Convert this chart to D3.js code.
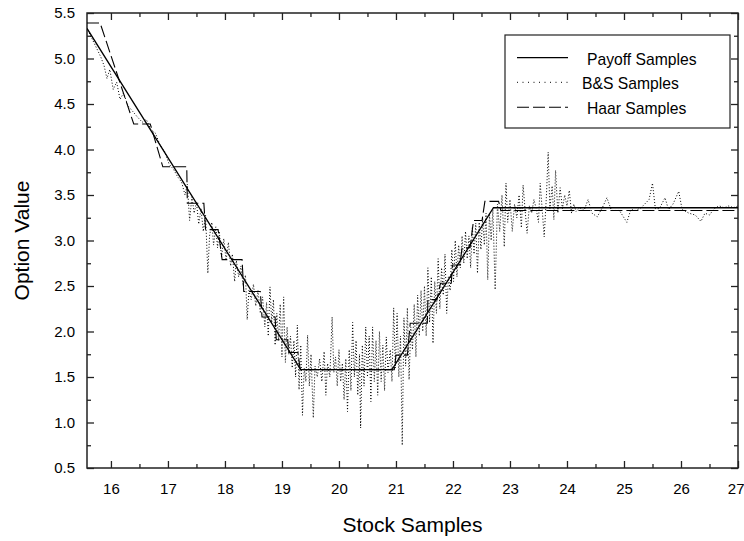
<!DOCTYPE html>
<html><head><meta charset="utf-8">
<script src="https://cdn.jsdelivr.net/npm/d3@7"></script>
<style>
body{margin:0;background:#fff;}
text{font-family:"Liberation Sans",Arial,sans-serif;fill:#000;}
</style></head>
<body><svg id="c" width="744" height="541"></svg>
<script>
// ---- data ----
const xMajorTicks = [16,17,18,19,20,21,22,23,24,25,26,27];
const xMinorTicks = [16.5,17.5,18.5,19.5,20.5,21.5,22.5,23.5,24.5,25.5,26.5];
const yMajorTicks = [0.5,1.0,1.5,2.0,2.5,3.0,3.5,4.0,4.5,5.0,5.5];
const yMinorTicks = [0.75,1.25,1.75,2.25,2.75,3.25,3.75,4.25,4.75,5.25];
const seriesNames = ["Payoff Samples","B&S Samples","Haar Samples"];

const payoffSamples = [[15.58,5.33],[19.33,1.58],[20.93,1.58],[22.71,3.36],[27,3.36]];

const haarSamples = [
[15.58,5.39],[15.81,5.39],[16.40,4.28],[16.69,4.28],[16.91,3.81],[17.33,3.81],[17.34,3.41],[17.63,3.41],
[17.66,3.12],[17.88,3.12],[17.95,2.79],[18.30,2.79],[18.33,2.44],[18.62,2.44],[18.65,2.16],[18.88,2.16],
[18.90,1.91],[19.10,1.91],[19.12,1.77],[19.28,1.77],[19.32,1.58],[20.97,1.58],[21.0,1.74],[21.2,1.74],
[21.25,2.09],[21.55,2.09],[21.56,2.35],[21.72,2.35],[21.78,2.53],[21.97,2.53],[21.99,2.73],[22.12,2.73],
[22.16,2.92],[22.30,2.92],[22.36,3.22],[22.51,3.22],[22.56,3.43],[22.80,3.43],[22.84,3.33],[27.0,3.33]
];

const bsSamples = [
[15.62,5.28],[15.72,5.15],[15.82,5.02],[15.88,4.92],[15.93,4.78],[15.98,4.88],[16.04,4.66],[16.1,4.74],
[16.16,4.55],[16.22,4.62],[16.3,4.48],[16.38,4.42],[16.46,4.36],[16.55,4.3],[16.62,4.33],[16.7,4.22],
[16.78,4.18],[16.86,4.05],[16.94,3.98],[17.02,3.84],[17.1,3.78],[17.17,3.7],[17.24,3.64],[17.3,3.5],
[17.34,3.62],[17.38,3.22],[17.42,3.48],[17.46,3.3],[17.5,3.42],[17.54,3.18],[17.58,3.35],[17.62,3.1],
[17.66,3.28],[17.7,2.64],[17.73,3.05],[17.77,3.2],[17.8,2.95],[17.84,3.15],[17.87,2.92],[17.9,3.1],
[17.94,2.82],[17.98,3.02],[18.02,2.78],[18.06,2.98],[18.1,2.72],[18.13,2.85],[18.17,2.55],[18.2,2.78],
[18.24,2.6],[18.28,2.72],[18.32,2.5],[18.36,2.62],[18.39,2.13],[18.42,2.45],[18.46,2.35],[18.5,2.52],
[18.54,2.28],[18.58,2.45],[18.62,2.2],[18.66,2.38],[18.7,2.05],[18.73,2.32],[18.76,1.95],[18.79,2.49],
[18.82,2.1],[18.85,2.35],[18.88,1.85],[18.91,2.2],[18.94,1.9],[18.97,2.3],[19.0,1.72],[19.03,2.38],
[19.06,1.66],[19.09,2.05],[19.12,1.75],[19.15,1.95],[19.18,1.6],[19.21,1.9],[19.24,1.5],[19.27,2.07],
[19.3,1.36],[19.33,1.85],[19.36,1.08],[19.39,1.6],[19.42,1.45],[19.45,1.96],[19.48,1.4],[19.51,1.75],
[19.55,1.05],[19.58,1.62],[19.62,1.5],[19.66,1.7],[19.7,1.45],[19.74,1.78],[19.77,1.3],[19.8,1.65],
[19.84,1.5],[19.88,2.16],[19.91,1.55],[19.94,1.72],[19.97,1.4],[20.0,1.8],[20.03,1.45],[20.06,1.65],
[20.09,1.25],[20.12,1.7],[20.15,1.12],[20.18,1.8],[20.21,1.35],[20.24,2.1],[20.27,1.5],[20.3,1.9],
[20.33,1.3],[20.36,1.75],[20.38,0.94],[20.41,1.85],[20.44,1.4],[20.47,2.05],[20.5,1.5],[20.53,1.95],
[20.56,1.23],[20.59,2.05],[20.62,1.45],[20.65,1.9],[20.68,1.3],[20.71,2.0],[20.74,1.45],[20.77,1.85],
[20.8,1.35],[20.83,1.94],[20.86,1.55],[20.9,1.8],[20.93,1.45],[20.96,2.26],[20.99,1.6],[21.02,2.2],
[21.05,1.5],[21.08,1.95],[21.11,0.75],[21.14,2.15],[21.17,1.62],[21.2,2.26],[21.23,1.47],[21.26,2.05],
[21.29,1.8],[21.32,2.3],[21.35,1.72],[21.38,2.4],[21.41,1.95],[21.44,2.45],[21.47,2.0],[21.5,2.5],
[21.53,1.95],[21.56,2.7],[21.59,2.1],[21.62,2.6],[21.65,1.87],[21.68,2.55],[21.71,2.2],[21.74,2.8],
[21.77,2.25],[21.8,2.7],[21.83,2.4],[21.86,2.85],[21.89,2.2],[21.92,2.6],[21.95,2.45],[21.98,2.9],
[22.01,2.55],[22.04,3.0],[22.07,2.6],[22.1,2.95],[22.13,2.7],[22.16,3.05],[22.19,2.75],[22.22,3.1],
[22.25,2.8],[22.28,3.05],[22.31,2.7],[22.34,3.15],[22.37,2.85],[22.4,3.19],[22.43,2.64],[22.46,3.2],
[22.49,2.9],[22.52,3.25],[22.55,2.95],[22.58,3.3],[22.61,2.57],[22.64,3.3],[22.67,3.0],[22.7,3.34],
[22.74,2.46],[22.78,3.4],[22.82,3.1],[22.86,3.5],[22.9,2.93],[22.93,3.63],[22.96,3.2],[23.0,3.45],
[23.04,3.1],[23.08,3.4],[23.12,3.25],[23.16,3.5],[23.2,3.14],[23.23,3.61],[23.27,3.3],[23.3,3.08],
[23.34,3.38],[23.38,3.3],[23.42,3.45],[23.46,3.35],[23.5,3.2],[23.53,3.63],[23.57,3.3],[23.6,3.04],
[23.64,3.5],[23.67,3.97],[23.7,3.35],[23.74,3.6],[23.77,3.23],[23.8,3.77],[23.84,3.3],[23.88,3.58],
[23.92,3.35],[23.96,3.5],[24.0,3.38],[24.04,3.55],[24.08,3.3],[24.12,3.4],[24.16,3.32],[24.22,3.36],
[24.3,3.33],[24.37,3.45],[24.44,3.3],[24.53,3.26],[24.62,3.36],[24.7,3.47],[24.78,3.33],[24.92,3.33],
[25.05,3.2],[25.12,3.34],[25.2,3.33],[25.3,3.36],[25.44,3.45],[25.5,3.63],[25.55,3.35],[25.62,3.35],
[25.72,3.47],[25.78,3.34],[25.86,3.4],[25.96,3.54],[26.02,3.34],[26.14,3.3],[26.25,3.28],[26.35,3.21],
[26.42,3.3],[26.5,3.28],[26.58,3.35],[26.67,3.38],[26.76,3.36],[26.84,3.38],[26.92,3.36],[27.0,3.38]
];

// ---- layout ----
const L = 87, R = 738, T = 13, B = 468;
const svg = d3.select("#c");
const x = d3.scaleLinear().domain([15.58, 27]).range([L, R]);
const y = d3.scaleLinear().domain([0.5, 5.5]).range([B, T]);

svg.append("defs").append("clipPath").attr("id","clip")
  .append("rect").attr("x",L).attr("y",T).attr("width",R-L).attr("height",B-T);

const axisColor = "#222";
function styleAxis(g){
  g.select(".domain").remove();
  g.selectAll(".tick line").attr("stroke",axisColor).attr("stroke-width",1.3);
  g.selectAll(".tick text").style("font-size","15px").attr("fill","#000")
   .style("font-family",'"Liberation Sans",Arial,sans-serif');
}
// bottom
const bottomAxis = svg.append("g").attr("transform",`translate(0,${B})`)
  .call(d3.axisBottom(x).tickValues(xMajorTicks).tickFormat(d3.format("d")).tickSize(-7).tickPadding(15))
  .call(styleAxis);
// keep the last label inside the page edge
bottomAxis.selectAll(".tick text").filter(d=>d===27).attr("text-anchor","end").attr("x",6);
svg.append("g").attr("transform",`translate(0,${B})`)
  .call(d3.axisBottom(x).tickValues(xMinorTicks).tickFormat("").tickSize(-4)).call(styleAxis);
// top
svg.append("g").attr("transform",`translate(0,${T})`)
  .call(d3.axisTop(x).tickValues(xMajorTicks).tickFormat("").tickSize(-7)).call(styleAxis);
svg.append("g").attr("transform",`translate(0,${T})`)
  .call(d3.axisTop(x).tickValues(xMinorTicks).tickFormat("").tickSize(-4)).call(styleAxis);
// left
svg.append("g").attr("transform",`translate(${L},0)`)
  .call(d3.axisLeft(y).tickValues(yMajorTicks).tickFormat(d3.format(".1f")).tickSize(-7).tickPadding(12))
  .call(styleAxis);
svg.append("g").attr("transform",`translate(${L},0)`)
  .call(d3.axisLeft(y).tickValues(yMinorTicks).tickFormat("").tickSize(-4)).call(styleAxis);
// right
svg.append("g").attr("transform",`translate(${R},0)`)
  .call(d3.axisRight(y).tickValues(yMajorTicks).tickFormat("").tickSize(-7)).call(styleAxis);
svg.append("g").attr("transform",`translate(${R},0)`)
  .call(d3.axisRight(y).tickValues(yMinorTicks).tickFormat("").tickSize(-4)).call(styleAxis);

// frame
svg.append("rect").attr("x",L).attr("y",T).attr("width",R-L).attr("height",B-T)
  .attr("fill","none").attr("stroke",axisColor).attr("stroke-width",1.5);

// lines
const line = d3.line().x(d=>x(d[0])).y(d=>y(d[1]));
const plot = svg.append("g").attr("clip-path","url(#clip)");
plot.append("path").datum(bsSamples).attr("d",line).attr("fill","none")
  .attr("stroke","#000").attr("stroke-width",1).attr("stroke-dasharray","1,2");
plot.append("path").datum(haarSamples).attr("d",line).attr("fill","none")
  .attr("stroke","#000").attr("stroke-width",1.1).attr("stroke-dasharray","12,4");
plot.append("path").datum(payoffSamples).attr("d",line).attr("fill","none")
  .attr("stroke","#000").attr("stroke-width",1.3);

// axis titles
svg.append("text").attr("x",(L+R)/2).attr("y",532).attr("text-anchor","middle")
  .style("font-size","21px").text("Stock Samples");
svg.append("text").attr("transform",`translate(29,${(T+B)/2}) rotate(-90)`).attr("text-anchor","middle")
  .style("font-size","21px").text("Option Value");

// legend
const lg = svg.append("g");
lg.append("rect").attr("x",505).attr("y",35).attr("width",225).attr("height",93)
  .attr("fill","#fff").attr("stroke",axisColor).attr("stroke-width",1.2);
const legendRows = [
  {name:seriesNames[0], dash:null, w:1.3, ly:57.7, tx:587, ty:64.5},
  {name:seriesNames[1], dash:"1,4.5", w:1, ly:82.3, tx:582, ty:89.3},
  {name:seriesNames[2], dash:"12,4", w:1.1, ly:107.3, tx:587, ty:114}
];
legendRows.forEach(r=>{
  const p = lg.append("line").attr("x1",517).attr("x2",568).attr("y1",r.ly).attr("y2",r.ly)
    .attr("stroke","#000").attr("stroke-width",r.w);
  if(r.dash) p.attr("stroke-dasharray",r.dash);
  lg.append("text").attr("x",r.tx).attr("y",r.ty).style("font-size","15.7px").text(r.name);
});
</script></body></html>
